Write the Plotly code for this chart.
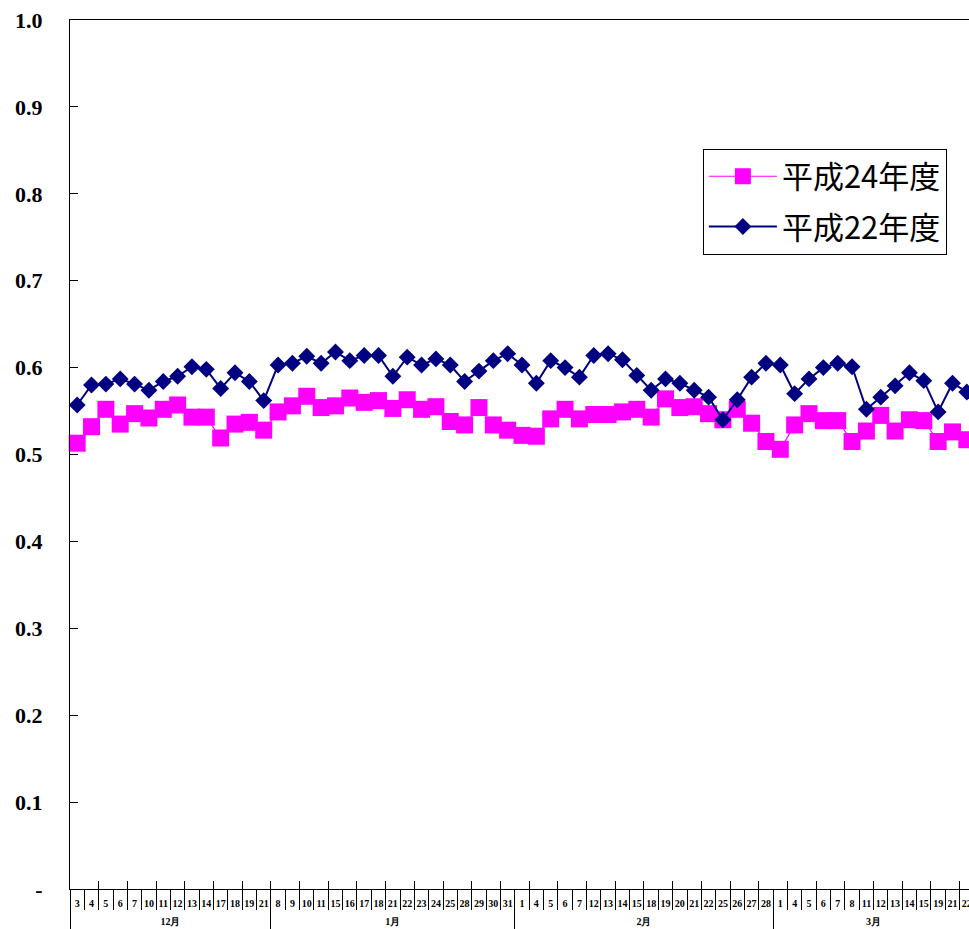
import plotly.graph_objects as go

# ---- data ----
months = ["12月", "1月", "2月", "3月"]
days_dec = ["3", "4", "5", "6", "7", "10", "11", "12", "13", "14", "17", "18", "19", "21"]
days_jan = ["8", "9", "10", "11", "15", "16", "17", "18", "21", "22", "23", "24", "25", "28", "29", "30", "31"]
days_feb = ["1", "4", "5", "6", "7", "12", "13", "14", "15", "18", "19", "20", "21", "22", "25", "26", "27", "28"]
days_mar = ["1", "4", "5", "6", "7", "8", "11", "12", "13", "14", "15", "19", "21", "22"]

h24 = [0.513, 0.532, 0.552, 0.535, 0.547, 0.542, 0.552, 0.557, 0.543, 0.543,
       0.519, 0.535, 0.537, 0.528,
       0.549, 0.556, 0.567, 0.554, 0.556, 0.565, 0.560, 0.562, 0.553, 0.563,
       0.552, 0.555, 0.538, 0.534, 0.554, 0.534, 0.528,
       0.522, 0.521, 0.541, 0.552, 0.541, 0.546, 0.546, 0.549, 0.552, 0.543,
       0.564, 0.554, 0.555, 0.547, 0.540, 0.552, 0.536, 0.515,
       0.506, 0.534, 0.547, 0.539, 0.539, 0.515, 0.527, 0.545, 0.527, 0.540,
       0.539, 0.515, 0.526, 0.517]

h22 = [0.557, 0.580, 0.581, 0.587, 0.581, 0.574, 0.584, 0.590, 0.601, 0.598,
       0.576, 0.594, 0.584, 0.562,
       0.603, 0.605, 0.613, 0.605, 0.618, 0.608, 0.614, 0.614, 0.590, 0.612,
       0.603, 0.610, 0.603, 0.584, 0.596, 0.608, 0.616,
       0.603, 0.582, 0.608, 0.600, 0.589, 0.614, 0.616, 0.609, 0.591, 0.574,
       0.587, 0.582, 0.574, 0.566, 0.540, 0.563, 0.589, 0.605,
       0.603, 0.570, 0.587, 0.600, 0.605, 0.601, 0.552, 0.566, 0.579, 0.594,
       0.585, 0.549, 0.582, 0.572]

y_tickvals = [0, 0.1, 0.2, 0.3, 0.4, 0.5, 0.6, 0.7, 0.8, 0.9, 1.0]
y_ticktext = ["-", "0.1", "0.2", "0.3", "0.4", "0.5", "0.6", "0.7", "0.8", "0.9", "1.0"]

# ---- build categories ----
groups = [days_dec, days_jan, days_feb, days_mar]
x_day, x_key = [], []
month_centers, month_bounds = [], [-0.5]
start = 0
for m, ds in zip(months, groups):
    for d in ds:
        x_day.append(d)
        x_key.append(m + "-" + d)
    month_centers.append(start + (len(ds) - 1) / 2)
    start += len(ds)
    month_bounds.append(start - 0.5)

serif = "Liberation Serif"
legend_font = "Noto Sans CJK JP"
xr = [-0.5, 62.15]

fig = go.Figure()
fig.add_trace(go.Scatter(
    x=x_key, y=h24, name="平成24年度", mode="lines+markers",
    line=dict(color="#FF00FF", width=1.2),
    marker=dict(symbol="square", size=17, color="#FF00FF"),
    legendgroup="a", cliponaxis=False,
))
fig.add_trace(go.Scatter(
    x=x_key, y=h22, name="平成22年度", mode="lines+markers",
    line=dict(color="#000080", width=2),
    marker=dict(symbol="diamond", size=13, color="#000080"),
    legendgroup="b", cliponaxis=False,
))
# helper traces for overlay axes (invisible)
fig.add_trace(go.Scatter(x=x_key, y=[None] * len(x_key), xaxis="x2", mode="markers",
                         marker=dict(opacity=0), showlegend=False, hoverinfo="skip"))
fig.add_trace(go.Scatter(x=month_centers, y=[None] * len(months), xaxis="x3", mode="markers",
                         marker=dict(opacity=0), showlegend=False, hoverinfo="skip"))
fig.add_trace(go.Scatter(x=month_bounds, y=[None] * len(month_bounds), xaxis="x4", mode="markers",
                         marker=dict(opacity=0), showlegend=False, hoverinfo="skip"))

tick_font = dict(family=serif, size=10, color="black", weight="bold")

fig.update_layout(
    width=969, height=929,
    margin=dict(l=70, r=0, t=20, b=40),
    paper_bgcolor="white", plot_bgcolor="white",
    showlegend=True,
    legend=dict(
        x=0.704, y=0.852, xanchor="left", yanchor="top",
        bordercolor="black", borderwidth=1, bgcolor="white",
        font=dict(family=legend_font, size=31, color="black"),
        itemwidth=68, tracegroupgap=7, traceorder="grouped",
    ),
    xaxis=dict(
        type="category", categoryorder="array", categoryarray=x_key, range=xr,
        tickmode="array", tickvals=x_key, ticktext=x_day, tickangle=0,
        showline=True, linecolor="black", linewidth=1, mirror=True, showgrid=False,
        ticks="outside", ticklen=20, tickcolor="black", tickson="boundaries",
        tickfont=tick_font, ticklabelstandoff=5, automargin=False,
    ),
    xaxis2=dict(
        type="category", overlaying="x", categoryorder="array", categoryarray=x_key,
        range=xr, showticklabels=False, ticks="inside", ticklen=8, tickcolor="black",
        tickson="boundaries", showgrid=False, showline=False, side="bottom",
        automargin=False,
    ),
    xaxis3=dict(
        type="linear", overlaying="x", range=xr, tickmode="array",
        tickvals=month_centers, ticktext=months, ticks="", tickangle=0,
        showgrid=False, showline=False, zeroline=False, side="bottom",
        tickfont=tick_font, ticklabelstandoff=25, automargin=False,
    ),
    xaxis4=dict(
        type="linear", overlaying="x", range=xr, tickmode="array",
        tickvals=month_bounds, showticklabels=False, ticks="outside", ticklen=45,
        tickcolor="black", showgrid=False, showline=False, zeroline=False,
        side="bottom", automargin=False,
    ),
    yaxis=dict(
        range=[0, 1.0], tickvals=y_tickvals, ticktext=y_ticktext,
        showline=True, linecolor="black", linewidth=1, showgrid=False, zeroline=False,
        ticks="inside", ticklen=8, tickcolor="black", ticklabelstandoff=22,
        ticklabeloverflow="allow",
        tickfont=dict(family=serif, size=22, color="black", weight="bold"),
        automargin=False,
    ),
)

fig.write_html(
    "out.html",
    config={"displayModeBar": False},
    post_script="document.body.style.margin='0';document.body.style.overflow='hidden';",
)
